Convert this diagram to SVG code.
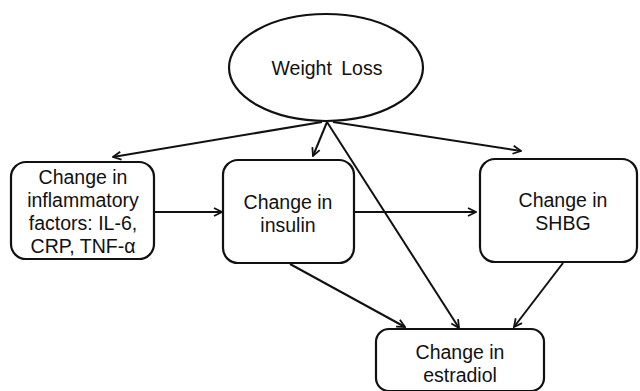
<svg xmlns="http://www.w3.org/2000/svg" width="640" height="391" viewBox="0 0 640 391">
<defs>
<marker id="arr" viewBox="0 0 10 10" refX="9" refY="5" markerWidth="10" markerHeight="10" markerUnits="userSpaceOnUse" orient="auto">
<path d="M1,1 L9,5 L1,9" fill="none" stroke="#111" stroke-width="1.8"/>
</marker>
<style>
.n{fill:#fff;stroke:#111;stroke-width:2.2}
.t{font-family:"Liberation Sans",Arial,sans-serif;font-size:19.5px;fill:#111;text-anchor:middle}
.c{stroke:#111;stroke-width:2;fill:none;marker-end:url(#arr)}
</style>
</defs>
<rect width="640" height="391" fill="#fff"/>
<g id="connectors">
<line class="c" x1="322" y1="122" x2="113" y2="157"/>
<line class="c" x1="327" y1="122" x2="313" y2="156"/>
<line class="c" x1="333" y1="122" x2="521" y2="151"/>
<line class="c" x1="327" y1="122" x2="459" y2="328"/>
<line class="c" x1="155" y1="212" x2="222" y2="212"/>
<line class="c" x1="355" y1="212" x2="476" y2="212"/>
<line class="c" x1="290" y1="264" x2="405" y2="327"/>
<line class="c" x1="563" y1="263" x2="514" y2="327"/>
</g>
<g id="weight-loss">
<ellipse class="n" cx="326" cy="67.5" rx="97" ry="53.5"/>
<text class="t" x="327" y="75" word-spacing="4">Weight Loss</text>
</g>
<g id="inflammatory">
<rect class="n" x="11" y="162" width="143" height="97" rx="15"/>
<text class="t" x="83" y="184">Change in</text>
<text class="t" x="83" y="207">inflammatory</text>
<text class="t" x="83" y="230">factors: IL-6,</text>
<text class="t" x="83" y="253">CRP, TNF-α</text>
</g>
<g id="insulin">
<rect class="n" x="223" y="160" width="131" height="103" rx="15"/>
<text class="t" x="288" y="209">Change in</text>
<text class="t" x="288" y="232">insulin</text>
</g>
<g id="shbg">
<rect class="n" x="480" y="159" width="157" height="103" rx="15"/>
<text class="t" x="563" y="207">Change in</text>
<text class="t" x="563" y="230">SHBG</text>
</g>
<g id="estradiol">
<rect class="n" x="376" y="329" width="168" height="62" rx="13"/>
<text class="t" x="460" y="359">Change in</text>
<text class="t" x="460" y="382">estradiol</text>
</g>
</svg>
